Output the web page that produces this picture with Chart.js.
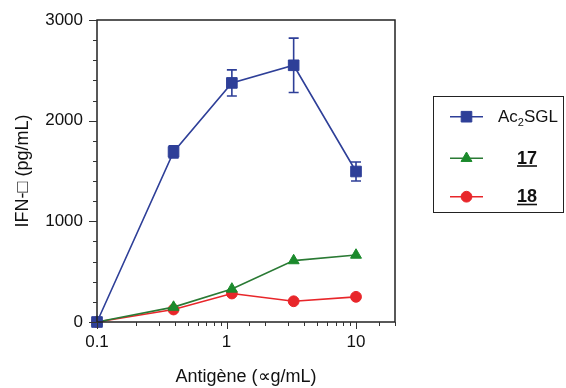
<!DOCTYPE html>
<html>
<head>
<meta charset="utf-8">
<script src="https://cdn.jsdelivr.net/npm/chart.js@4/dist/chart.umd.min.js"></script>
<style>
html,body{margin:0;padding:0;background:#fff;}
#wrap{width:566px;height:388px;position:relative;}
</style>
</head>
<body>
<div id="wrap"><canvas id="c" width="566" height="388"></canvas></div>
<script>
// ---- data ----
const xValues = [0.1, 0.39, 1.1, 3.3, 10];
const ac2sgl = [0, 1690, 2375, 2550, 1495];
const ac2sglErr = [0, 60, 130, 270, 95];
const c17 = [0, 148, 328, 610, 665];
const c18 = [0, 124, 283, 206, 250];
const xTickLabels = [0.1, 1, 10];
const yTickLabels = [0, 1000, 2000, 3000];
const seriesNames = ['Ac2SGL', '17', '18'];

const FONT = '"Liberation Sans", Arial, Helvetica, sans-serif';
const BLUE = '#2e3f98', GREEN_L = '#2a7a34', GREEN_M = '#1b8a2c', RED = '#e8262a';

function pts(ys){ return xValues.map((x,i)=>({x:x, y:ys[i]})); }

const decor = {
  id:'decor',
  beforeDatasetsDraw(chart){
    const ctx = chart.ctx, xs = chart.scales.x, ys = chart.scales.y;
    ctx.save();
    ctx.strokeStyle = BLUE; ctx.lineWidth = 1.6;
    xValues.forEach((x,i)=>{
      const e = ac2sglErr[i]; if(!e) return;
      const px = xs.getPixelForValue(x);
      const top = ys.getPixelForValue(ac2sgl[i]+e), bot = ys.getPixelForValue(ac2sgl[i]-e);
      ctx.beginPath();
      ctx.moveTo(px, top); ctx.lineTo(px, bot);
      ctx.moveTo(px-5, top); ctx.lineTo(px+5, top);
      ctx.moveTo(px-5, bot); ctx.lineTo(px+5, bot);
      ctx.stroke();
    });
    ctx.restore();
  },
  afterDraw(chart){
    const ctx = chart.ctx, a = chart.chartArea, xs = chart.scales.x, ys = chart.scales.y;
    ctx.save();
    ctx.strokeStyle = '#222'; ctx.lineWidth = 1.5;
    ctx.strokeRect(a.left, a.top, a.right-a.left, a.bottom-a.top);
    ctx.lineWidth = 1; ctx.strokeStyle = '#333';
    for(let v=0; v<=3000; v+=200){
      const py = Math.round(ys.getPixelForValue(v))+0.5;
      const len = (v%1000===0) ? 8 : 4;
      ctx.beginPath(); ctx.moveTo(a.left, py); ctx.lineTo(a.left-len, py); ctx.stroke();
    }
    xs.ticks.forEach(t=>{
      const px = Math.round(xs.getPixelForValue(t.value))+0.5;
      const major = xTickLabels.some(v=>Math.abs(v-t.value)<1e-9);
      const len = major ? 7 : 4;
      ctx.beginPath(); ctx.moveTo(px, a.bottom); ctx.lineTo(px, a.bottom+len); ctx.stroke();
    });
    ctx.lineWidth = 1; ctx.strokeStyle = '#222';
    ctx.strokeRect(433.5, 96.5, 130, 116);
    const rows = [
      {y:116.7, line:BLUE, fill:BLUE, style:'rect', r:7.5},
      {y:158.3, line:GREEN_L, fill:GREEN_M, style:'triangle', r:6.3},
      {y:196.7, line:RED, fill:RED, style:'circle', r:5.4}
    ];
    rows.forEach(r=>{
      ctx.strokeStyle = r.line; ctx.lineWidth = 1.6;
      ctx.beginPath(); ctx.moveTo(450, r.y); ctx.lineTo(483, r.y); ctx.stroke();
      ctx.fillStyle = r.fill; ctx.strokeStyle = r.fill; ctx.lineWidth = 1;
      Chart.helpers.drawPoint(ctx, {pointStyle:r.style, radius:r.r, borderWidth:1, rotation:0}, 466.5, r.y);
    });
    ctx.fillStyle = '#111'; ctx.textBaseline = 'alphabetic'; ctx.textAlign = 'left';
    ctx.font = '17px ' + FONT;
    let x = 498;
    ctx.fillText('Ac', x, 122); x += ctx.measureText('Ac').width;
    ctx.font = '11px ' + FONT;
    ctx.fillText('2', x, 126); x += ctx.measureText('2').width;
    ctx.font = '17px ' + FONT;
    ctx.fillText('SGL', x, 122);
    ctx.font = 'bold 18px ' + FONT;
    [[seriesNames[1],163.5],[seriesNames[2],202]].forEach(([s,by])=>{
      const w = ctx.measureText(s).width, sx = 527 - w/2;
      ctx.fillText(s, sx, by);
      ctx.lineWidth = 1.6; ctx.strokeStyle = '#111';
      ctx.beginPath(); ctx.moveTo(sx, by+2.5); ctx.lineTo(sx+w, by+2.5); ctx.stroke();
    });
    ctx.restore();
  }
};

new Chart(document.getElementById('c'), {
  type:'line',
  data:{
    datasets:[
      {label:seriesNames[0], data:pts(ac2sgl), borderColor:BLUE, backgroundColor:BLUE,
       pointStyle:'rect', pointRadius:7.5, pointBorderWidth:1, borderWidth:1.6, clip:false},
      {label:seriesNames[1], data:pts(c17), borderColor:GREEN_L, backgroundColor:GREEN_M, pointBorderColor:GREEN_M,
       pointStyle:'triangle', pointRadius:6.3, pointBorderWidth:1, borderWidth:1.6, clip:false},
      {label:seriesNames[2], data:pts(c18), borderColor:RED, backgroundColor:RED,
       pointStyle:'circle', pointRadius:5.4, pointBorderWidth:1, borderWidth:1.6, clip:false}
    ]
  },
  options:{
    responsive:false, animation:false, devicePixelRatio:1,
    layout:{padding:{left:0, top:20, right:171, bottom:0}},
    plugins:{legend:{display:false}, tooltip:{enabled:false}},
    scales:{
      x:{type:'logarithmic', min:0.1, max:20,
         grid:{display:false}, border:{display:false},
         afterFit(s){ s.height = 66; },
         ticks:{autoSkip:false, maxRotation:0, padding:2, color:'#111', font:{family:FONT, size:17},
           callback(v){ return xTickLabels.some(t=>Math.abs(t-v)<1e-9) ? String(v) : ''; }},
         title:{display:true, text:'Antigène (∝g/mL)', color:'#111', font:{family:FONT, size:18}, padding:{top:0,bottom:0}}
      },
      y:{type:'linear', min:0, max:3000,
         grid:{display:false}, border:{display:false},
         afterFit(s){ s.width = 97; },
         afterBuildTicks(s){ s.ticks = yTickLabels.map(v=>({value:v})); },
         ticks:{padding:6, color:'#111', font:{family:FONT, size:17}, callback(v){ return String(v); }},
         title:{display:true, text:'IFN-□ (pg/mL)', color:'#111', font:{family:FONT, size:18}, padding:{top:12,bottom:0}}
      }
    }
  },
  plugins:[decor]
});
</script>
</body>
</html>
